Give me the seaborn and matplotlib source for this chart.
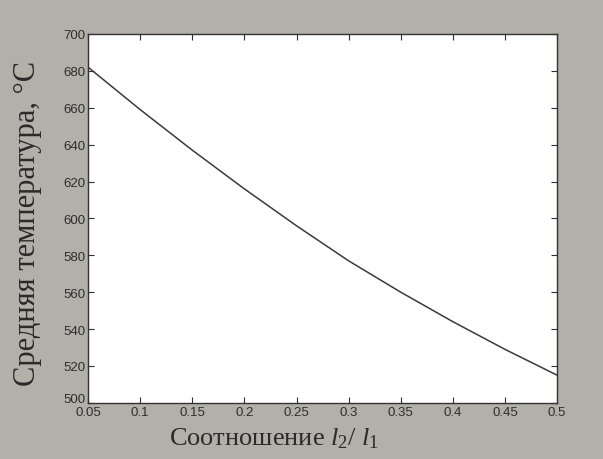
import numpy as np
import pandas as pd
import matplotlib
matplotlib.use("Agg")
import matplotlib.pyplot as plt
import matplotlib.transforms as mtransforms
import seaborn as sns

# values
ratio = [0.05, 0.10, 0.15, 0.20, 0.25, 0.30, 0.35, 0.40, 0.45, 0.50]
temperature = [682, 659, 637, 616, 596, 577, 560, 544, 529, 515]
x_ticks = [0.05, 0.1, 0.15, 0.2, 0.25, 0.3, 0.35, 0.4, 0.45, 0.5]
x_tick_labels = ["0.05", "0.1", "0.15", "0.2", "0.25", "0.3", "0.35", "0.4", "0.45", "0.5"]
y_ticks = [500, 520, 540, 560, 580, 600, 620, 640, 660, 680, 700]

df = pd.DataFrame({"ratio": ratio, "temp": temperature})

sns.set_style("ticks")
plt.rcParams["font.family"] = ["Liberation Sans", "DejaVu Sans"]
plt.rcParams["mathtext.fontset"] = "custom"
plt.rcParams["mathtext.rm"] = "Liberation Serif"
plt.rcParams["mathtext.it"] = "Liberation Serif:italic"

fig = plt.figure(figsize=(6.03, 4.6), dpi=100, facecolor="#b3afa9")
ax = fig.add_axes([0.146, 0.122, 0.778, 0.802])
ax.set_facecolor("white")

sns.lineplot(data=df, x="ratio", y="temp", ax=ax, color="#3a3a3a", linewidth=1.1)

ax.set_xlim(0.05, 0.5)
ax.set_ylim(500, 700)
ax.set_xticks(x_ticks)
ax.set_xticklabels(x_tick_labels)
ax.set_yticks(y_ticks)
ax.tick_params(direction="in", top=True, right=True, length=4, width=0.8,
               labelsize=9.5, colors="#2e2e2e", pad=2)
for s in ax.spines.values():
    s.set_color("#333333")
    s.set_linewidth(1.0)

# lift the bottom y label a little so it clears "0.05"
lab500 = ax.get_yticklabels()[0]
lab500.set_transform(lab500.get_transform() +
                     mtransforms.ScaledTranslation(0, 4 / 72, fig.dpi_scale_trans))

ax.set_xlabel(r"Соотношение $\mathit{l}_2$/ $\mathit{l}_1$",
              family=["Liberation Serif", "DejaVu Serif"], fontsize=19, color="#2a2a2a")
ax.xaxis.set_label_coords(0.397, -0.06)
ax.set_ylabel("Средняя температура, °С",
              family=["Liberation Serif", "DejaVu Serif"], fontsize=22, color="#2a2a2a")
ax.yaxis.set_label_coords(-0.098, 0.49)

fig.savefig("out.png", dpi=100, facecolor=fig.get_facecolor())
